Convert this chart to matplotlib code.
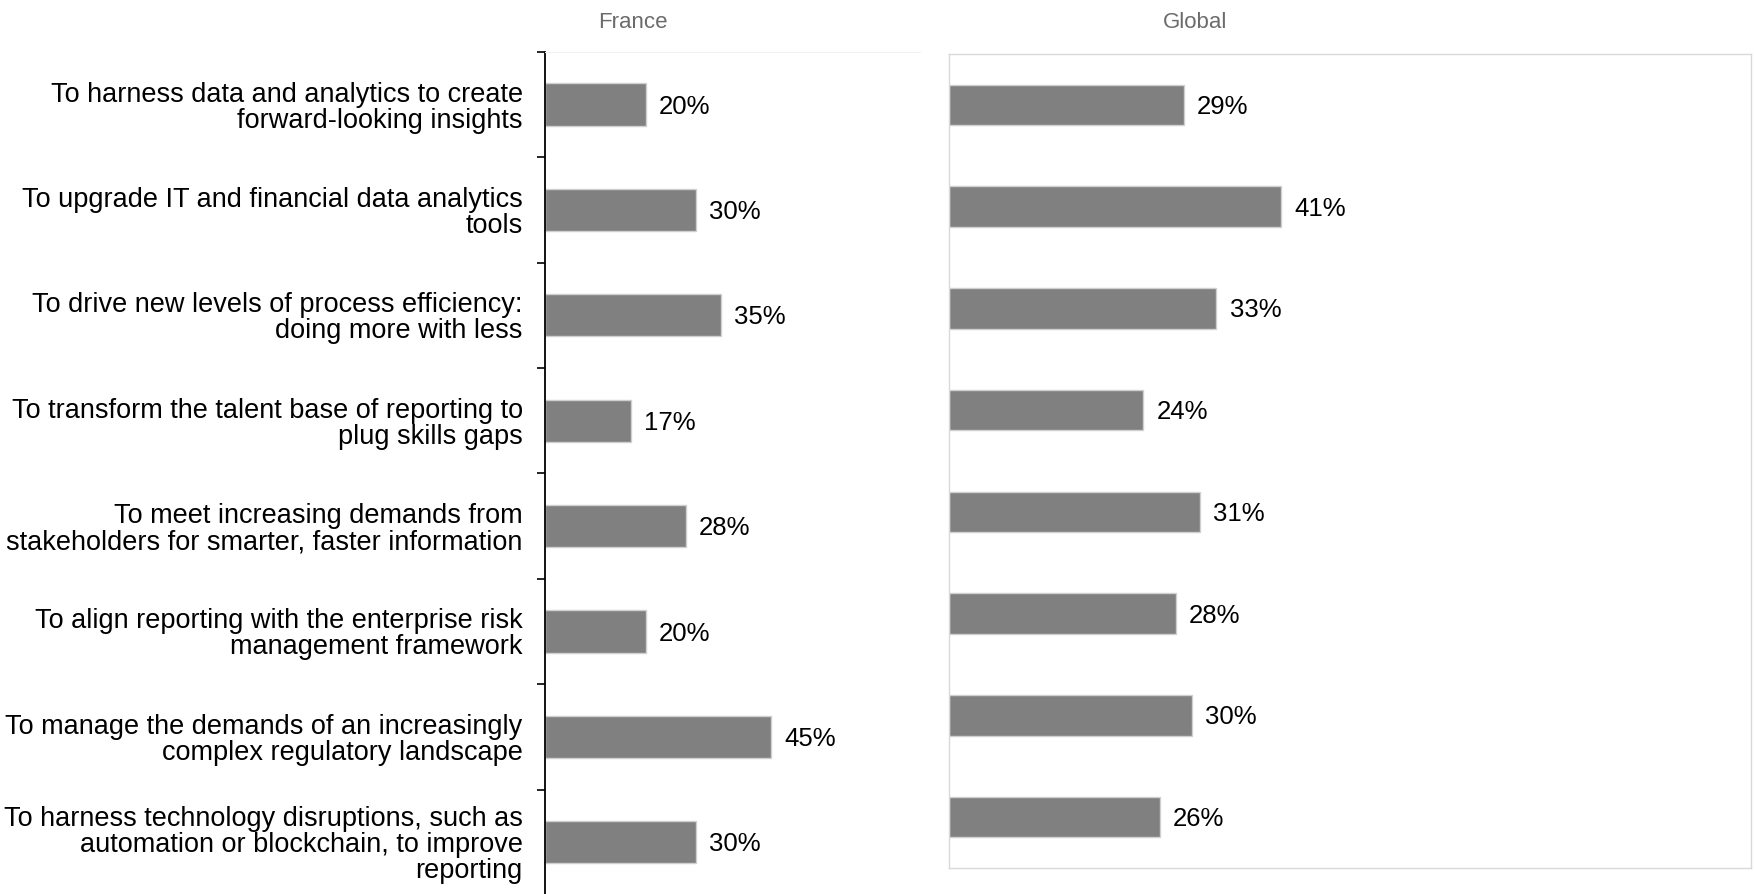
import numpy as np
import matplotlib
matplotlib.use("Agg")
import matplotlib.pyplot as plt

plt.rcParams['font.family'] = ['Liberation Sans', 'DejaVu Sans']

# Данные
labels = [
    "To harness data and analytics to create\nforward-looking insights",
    "To upgrade IT and financial data analytics\ntools",
    "To drive new levels of process efficiency:\ndoing more with less",
    "To transform the talent base of reporting to\nplug skills gaps",
    "To meet increasing demands from\nstakeholders for smarter, faster information",
    "To align reporting with the enterprise risk\nmanagement framework",
    "To manage the demands of an increasingly\ncomplex regulatory landscape",
    "To harness technology disruptions, such as\nautomation or blockchain, to improve\nreporting",
]
france = [20, 30, 35, 17, 28, 20, 45, 30]
global_vals = [29, 41, 33, 24, 31, 28, 30, 26]

bar_color = '#808080'
edge_color = '#d0d0d0'
label_size = 19.5
value_size = 18.5
title_size = 16

fig = plt.figure(figsize=(17.54, 8.94), dpi=100)

# Франция
ax1 = fig.add_axes([0.3107, -0.001, 0.2138, 0.943])
y = np.arange(len(labels))
ax1.barh(y, france, height=0.4, color=bar_color, edgecolor=edge_color, linewidth=1)
ax1.set_ylim(len(labels) - 0.5, -0.5)
ax1.set_xlim(0, 74.5)
ax1.set_yticks(y)
ax1.set_yticklabels(labels, fontsize=label_size, linespacing=1.0)
ax1.set_yticks(np.arange(len(labels) + 1) - 0.5, minor=True)
ax1.tick_params(axis='y', which='major', length=0, pad=16)
ax1.tick_params(axis='y', which='minor', length=6, width=1.2, direction='out')
ax1.set_xticks([])
for s in ['right', 'bottom']:
    ax1.spines[s].set_visible(False)
ax1.spines['top'].set_color('#f0f0f0')
ax1.spines['left'].set_linewidth(1.3)
for i, v in enumerate(france):
    ax1.annotate(f"{v}%", (v, i), xytext=(9.6, -1.5), textcoords='offset points',
                 va='center', ha='left', fontsize=value_size)

# Глобально
ax2 = fig.add_axes([0.541, 0.0291, 0.4573, 0.9105])
ax2.barh(y, global_vals, height=0.4, color=bar_color, edgecolor=edge_color, linewidth=1)
ax2.set_ylim(len(labels) - 0.5, -0.5)
ax2.set_xlim(0, 99)
ax2.set_xticks([])
ax2.set_yticks([])
for s in ax2.spines.values():
    s.set_color('#d9d9d9')
    s.set_linewidth(1)
for i, v in enumerate(global_vals):
    ax2.annotate(f"{v}%", (v, i), xytext=(9.6, -1.5), textcoords='offset points',
                 va='center', ha='left', fontsize=value_size)

fig.text(633 / 1754, 1 - 22 / 894, "France", ha='center', va='center',
         fontsize=title_size, color='#6b6b6b')
fig.text(1195 / 1754, 1 - 22 / 894, "Global", ha='center', va='center',
         fontsize=title_size, color='#6b6b6b')

fig.savefig('out.png', dpi=100)
